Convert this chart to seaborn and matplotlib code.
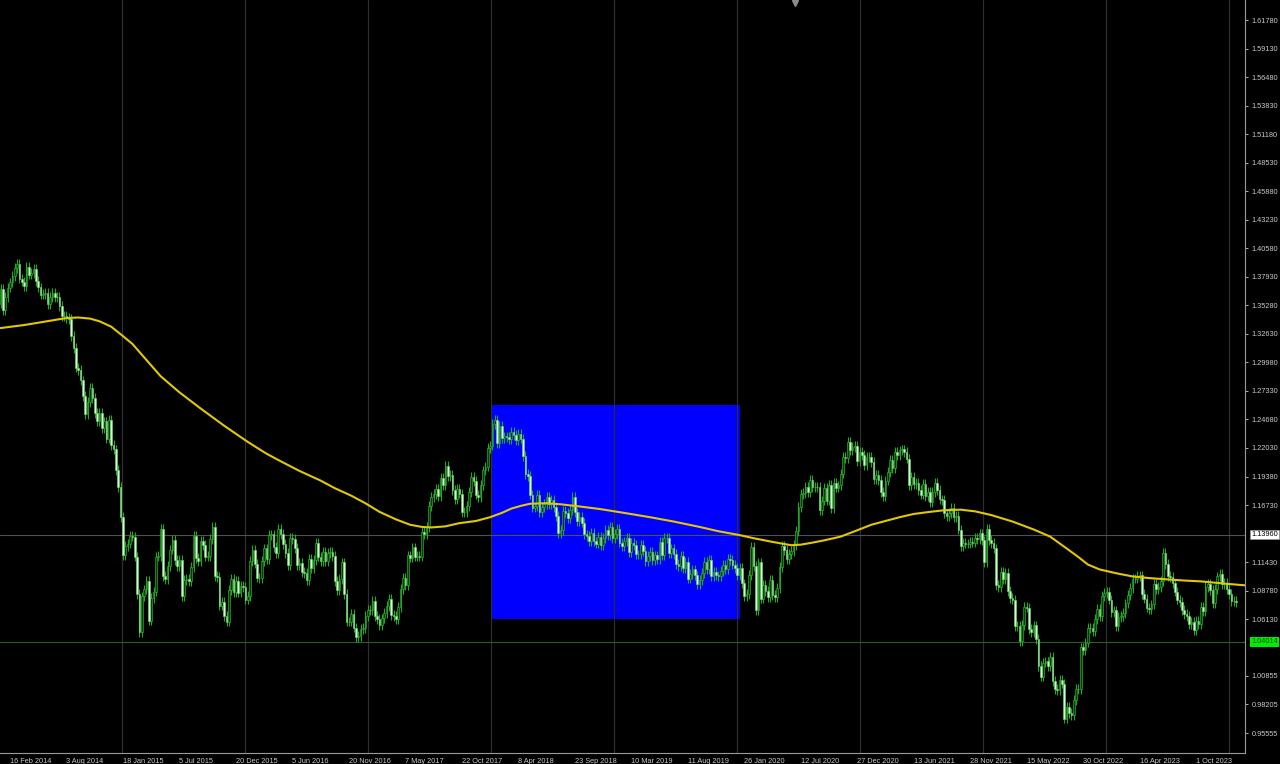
import numpy as np
import matplotlib
matplotlib.use("Agg")
import matplotlib.pyplot as plt
import matplotlib.transforms as mtransforms
import seaborn as sns

# EURUSD weekly closes (one list per year)
open_first = 1.3545
close_2014 = [1.3678, 1.3486, 1.3606, 1.3693, 1.3741, 1.3803, 1.3873, 1.3911, 1.3776, 1.3749,
              1.3705, 1.3886, 1.3814, 1.3830, 1.3870, 1.3755, 1.3695, 1.3628, 1.3636, 1.3643,
              1.3542, 1.3606, 1.3646, 1.3607, 1.3605, 1.3524, 1.3429, 1.3429, 1.3412, 1.3400,
              1.3240, 1.3130, 1.2950, 1.2930, 1.2830, 1.2686, 1.2518, 1.2630, 1.2761, 1.2670,
              1.2525, 1.2450, 1.2525, 1.2390, 1.2450, 1.2290, 1.2460, 1.2230, 1.2190, 1.2000]
close_2015 = [1.1840, 1.1565, 1.1205, 1.1290, 1.1315, 1.1390, 1.1380, 1.1195, 1.0845, 1.0495,
              1.0825, 1.0890, 1.0970, 1.0600, 1.0810, 1.0870, 1.1195, 1.1200, 1.1450, 1.1015,
              1.0985, 1.1110, 1.1260, 1.1350, 1.1165, 1.1110, 1.1160, 1.0830, 1.0980, 1.0985,
              1.0970, 1.1100, 1.1385, 1.1180, 1.1150, 1.1340, 1.1300, 1.1195, 1.1200, 1.1360,
              1.1470, 1.1015, 1.1005, 1.0740, 1.0770, 1.0645, 1.0590, 1.0885, 1.0990, 1.0865,
              1.0965, 1.0860]
close_2016 = [1.0925, 1.0915, 1.0795, 1.0830, 1.1155, 1.1255, 1.1130, 1.1000, 1.0995, 1.1155,
              1.1270, 1.1170, 1.1395, 1.1400, 1.1285, 1.1225, 1.1450, 1.1405, 1.1310, 1.1225,
              1.1115, 1.1370, 1.1355, 1.1275, 1.1115, 1.1135, 1.1050, 1.1040, 1.0975, 1.1175,
              1.1085, 1.1165, 1.1325, 1.1195, 1.1155, 1.1235, 1.1155, 1.1225, 1.1235, 1.1200,
              1.0970, 1.0885, 1.0985, 1.1140, 1.0850, 1.0590, 1.0590, 1.0665, 1.0535, 1.0450,
              1.0455, 1.0520]
close_2017 = [1.0530, 1.0640, 1.0700, 1.0695, 1.0785, 1.0640, 1.0615, 1.0560, 1.0620, 1.0670,
              1.0735, 1.0800, 1.0650, 1.0640, 1.0615, 1.0725, 1.0895, 1.0995, 1.0930, 1.1205,
              1.1185, 1.1280, 1.1195, 1.1200, 1.1195, 1.1425, 1.1400, 1.1470, 1.1665, 1.1750,
              1.1775, 1.1820, 1.1760, 1.1925, 1.1860, 1.2035, 1.1945, 1.1950, 1.1815, 1.1730,
              1.1820, 1.1780, 1.1605, 1.1610, 1.1665, 1.1795, 1.1935, 1.1895, 1.1770, 1.1745,
              1.1860, 1.1995]
close_2018 = [1.2030, 1.2200, 1.2225, 1.2425, 1.2460, 1.2250, 1.2405, 1.2295, 1.2310, 1.2305,
              1.2285, 1.2355, 1.2325, 1.2280, 1.2330, 1.2290, 1.2130, 1.1960, 1.1940, 1.1770,
              1.1650, 1.1660, 1.1770, 1.1610, 1.1655, 1.1685, 1.1745, 1.1685, 1.1720, 1.1655,
              1.1570, 1.1410, 1.1440, 1.1620, 1.1600, 1.1550, 1.1625, 1.1745, 1.1605, 1.1525,
              1.1560, 1.1510, 1.1400, 1.1385, 1.1335, 1.1415, 1.1335, 1.1315, 1.1380, 1.1305,
              1.1370, 1.1440]
close_2019 = [1.1395, 1.1470, 1.1365, 1.1405, 1.1455, 1.1325, 1.1295, 1.1335, 1.1365, 1.1235,
              1.1325, 1.1300, 1.1215, 1.1215, 1.1300, 1.1245, 1.1150, 1.1200, 1.1235, 1.1160,
              1.1205, 1.1170, 1.1330, 1.1210, 1.1370, 1.1370, 1.1225, 1.1270, 1.1220, 1.1125,
              1.1110, 1.1200, 1.1090, 1.1145, 1.0990, 1.1030, 1.1075, 1.1020, 1.0940, 1.0980,
              1.1040, 1.1145, 1.1080, 1.1165, 1.1015, 1.1050, 1.1020, 1.1015, 1.1060, 1.1120,
              1.1080, 1.1175]
close_2020 = [1.1160, 1.1120, 1.1090, 1.1025, 1.1090, 1.0945, 1.0830, 1.0845, 1.1025, 1.1285,
              1.1105, 1.0695, 1.1140, 1.0805, 1.0935, 1.0875, 1.0820, 1.0980, 1.0840, 1.0820,
              1.0900, 1.1100, 1.1290, 1.1255, 1.1175, 1.1220, 1.1245, 1.1300, 1.1430, 1.1655,
              1.1775, 1.1785, 1.1840, 1.1795, 1.1905, 1.1840, 1.1845, 1.1840, 1.1630, 1.1715,
              1.1830, 1.1715, 1.1860, 1.1645, 1.1875, 1.1835, 1.1855, 1.1965, 1.2120, 1.2110,
              1.2260, 1.2185]
close_2021 = [1.2215, 1.2220, 1.2080, 1.2170, 1.2135, 1.2045, 1.2120, 1.2120, 1.2075, 1.1915,
              1.1950, 1.1905, 1.1795, 1.1760, 1.1900, 1.1980, 1.2095, 1.2020, 1.2165, 1.2140,
              1.2180, 1.2190, 1.2165, 1.2105, 1.1860, 1.1935, 1.1865, 1.1875, 1.1810, 1.1770,
              1.1870, 1.1760, 1.1795, 1.1700, 1.1795, 1.1880, 1.1815, 1.1725, 1.1720, 1.1595,
              1.1570, 1.1600, 1.1645, 1.1560, 1.1570, 1.1445, 1.1290, 1.1320, 1.1315, 1.1315,
              1.1330, 1.1325, 1.1370]
close_2022 = [1.1360, 1.1410, 1.1345, 1.1145, 1.1450, 1.1350, 1.1320, 1.1270, 1.0930, 1.0910,
              1.1050, 1.0985, 1.1045, 1.0875, 1.0810, 1.0795, 1.0545, 1.0550, 1.0410, 1.0560,
              1.0730, 1.0720, 1.0520, 1.0495, 1.0555, 1.0430, 1.0180, 1.0080, 1.0210, 1.0220,
              1.0180, 1.0260, 1.0040, 0.9965, 0.9955, 1.0045, 1.0015, 0.9690, 0.9800, 0.9740,
              0.9720, 0.9860, 0.9965, 0.9960, 1.0350, 1.0325, 1.0395, 1.0535, 1.0530, 1.0505,
              1.0615, 1.0705]
close_2023 = [1.0645, 1.0830, 1.0855, 1.0870, 1.0795, 1.0680, 1.0695, 1.0545, 1.0635, 1.0640,
              1.0670, 1.0760, 1.0840, 1.0900, 1.0990, 1.0990, 1.1015, 1.1020, 1.0850, 1.0805,
              1.0720, 1.0710, 1.0750, 1.0940, 1.0895, 1.0910, 1.0965, 1.1230, 1.1125, 1.1015,
              1.1005, 1.0945, 1.0870, 1.0795, 1.0775, 1.0700, 1.0660, 1.0645, 1.0570, 1.0590,
              1.0515, 1.0595, 1.0565, 1.0730, 1.0685, 1.0915, 1.0940, 1.0885, 1.0760, 1.0895,
              1.1010, 1.1035]
close_2024 = [1.0940, 1.0950, 1.0895, 1.0850, 1.0785, 1.0785, 1.0775]

# yellow moving average, read at bar positions
ma_bars = [0, 10, 17, 23, 28, 33, 38, 42, 47, 51, 56, 62, 68, 76, 85, 95, 105, 113, 119, 127,
           136, 142, 149, 155, 161, 168, 174, 179, 183, 189, 195, 202, 208, 213, 217, 221,
           225, 232, 238, 246, 255, 265, 276, 286, 297, 305, 314, 320, 327, 332, 336, 340,
           344, 350, 357, 363, 370, 376, 382, 388, 395, 401, 408, 414, 421, 430, 439, 446,
           453, 458, 462, 467, 474, 481, 488, 496, 503, 510, 517, 524, 529]
ma_values = [1.3317, 1.3345, 1.3370, 1.3392, 1.3410, 1.3415, 1.3405, 1.3380, 1.3330, 1.3260,
             1.3170, 1.3020, 1.2870, 1.2720, 1.2570, 1.2410, 1.2260, 1.2150, 1.2080, 1.1990,
             1.1900, 1.1830, 1.1760, 1.1690, 1.1610, 1.1540, 1.1490, 1.1470, 1.1465, 1.1475,
             1.1505, 1.1525, 1.1560, 1.1600, 1.1640, 1.1665, 1.1685, 1.1690, 1.1680, 1.1660,
             1.1635, 1.1600, 1.1560, 1.1520, 1.1470, 1.1430, 1.1394, 1.1365, 1.1335, 1.1315,
             1.1300, 1.1305, 1.1320, 1.1345, 1.1380, 1.1430, 1.1490, 1.1525, 1.1560, 1.1590,
             1.1610, 1.1625, 1.1630, 1.1615, 1.1580, 1.1520, 1.1446, 1.1380, 1.1270, 1.1190,
             1.1121, 1.1075, 1.1040, 1.1010, 1.0995, 1.0982, 1.0972, 1.0964, 1.0950, 1.0936,
             1.0927]

date_labels = ["16 Feb 2014", "3 Aug 2014", "18 Jan 2015", "5 Jul 2015", "20 Dec 2015",
               "5 Jun 2016", "20 Nov 2016", "7 May 2017", "22 Oct 2017", "8 Apr 2018",
               "23 Sep 2018", "10 Mar 2019", "11 Aug 2019", "26 Jan 2020", "12 Jul 2020",
               "27 Dec 2020", "13 Jun 2021", "28 Nov 2021", "15 May 2022", "30 Oct 2022",
               "16 Apr 2023", "1 Oct 2023"]
price_ticks = [1.61780, 1.59130, 1.56480, 1.53830, 1.51180, 1.48530, 1.45880, 1.43230,
               1.40580, 1.37930, 1.35280, 1.32630, 1.29980, 1.27330, 1.24680, 1.22030,
               1.19380, 1.16730, 1.11430, 1.08780, 1.06130, 1.00855, 0.98205, 0.95555]
current_price = 1.13960
alert_price = 1.04014
box_bars = [208.4, 314.2]
box_prices = [1.0614, 1.2602]
shift_marker_bar = 337.6

WICK = 0.0045

sns.set_style("dark", {"axes.facecolor": "black", "figure.facecolor": "black"})
plt.rcParams['font.family'] = ['Liberation Sans', 'DejaVu Sans']

closes = np.array(close_2014 + close_2015 + close_2016 + close_2017 + close_2018 + close_2019
                  + close_2020 + close_2021 + close_2022 + close_2023 + close_2024)
opens = np.r_[open_first, closes[:-1]]
bars = np.arange(len(closes))
top = np.maximum(opens, closes)
bot = np.minimum(opens, closes)
up = closes >= opens

fig = plt.figure(figsize=(12.8, 7.64), dpi=100, facecolor='black')
ax = fig.add_axes([0, 11 / 764, 1245 / 1280, 753 / 764])
ax.set_facecolor('black')

# blue rectangle object
ax.add_patch(plt.Rectangle((box_bars[0], box_prices[0]), box_bars[1] - box_bars[0],
                           box_prices[1] - box_prices[0], facecolor='#0000ff',
                           edgecolor='none', zorder=0.5))

# vertical grid
for g in np.arange(51.6, 530, 52.25):
    ax.axvline(g, color='#2e2e2e', lw=0.9, zorder=1)

ax.axhline(current_price, color='#505050', lw=0.8, zorder=1.5)
ax.axhline(alert_price, color='#276027', lw=0.8, zorder=1.5)

# candles
ax.vlines(bars, bot - WICK, top + WICK, color='#22a822', lw=0.8, zorder=3)
ax.bar(bars[up], (top - bot)[up], bottom=bot[up], width=0.7, color='#0b3b0b',
       edgecolor='#33c433', lw=0.4, zorder=4)
ax.bar(bars[~up], (top - bot)[~up], bottom=bot[~up], width=0.7, color='#d2f7d2',
       edgecolor='#6fd66f', lw=0.4, zorder=4)

sns.lineplot(x=ma_bars, y=ma_values, ax=ax, color='#e2c800', lw=1.5, zorder=5)

ax.set_xlim(-0.25, 528.8)
ax.set_ylim(0.9370, 1.6364)

label_bars = 4 + 24 * np.arange(len(date_labels))
ax.set_xticks(label_bars)
ax.set_xticklabels(date_labels, ha='left')
ax.yaxis.tick_right()
ax.set_yticks(price_ticks)
ax.set_yticklabels([f"{p:.5f}" for p in price_ticks])
ax.tick_params(axis='x', colors='#c8c8c8', labelsize=5.3, length=2, width=0.6, pad=1.5)
ax.tick_params(axis='y', colors='#c8c8c8', labelsize=5.3, length=2, width=0.6, pad=2.5)
ax.grid(False)
for s in ['left', 'top']:
    ax.spines[s].set_visible(False)
for s in ['right', 'bottom']:
    ax.spines[s].set_color('#9a9a9a')
    ax.spines[s].set_linewidth(0.8)

yblend = mtransforms.blended_transform_factory(ax.transAxes, ax.transData)
ax.text(1.005, current_price, f"{current_price:.5f}", transform=yblend, fontsize=5.3,
        color='black', va='center', ha='left', clip_on=False,
        bbox=dict(boxstyle='square,pad=0.15', facecolor='white', edgecolor='#9a9a9a', lw=0.5))
ax.text(1.005, alert_price, f"{alert_price:.5f}", transform=yblend, fontsize=5.3,
        color='#0a4a0a', va='center', ha='left', clip_on=False,
        bbox=dict(boxstyle='square,pad=0.15', facecolor='#00ee00', edgecolor='none'))

xblend = mtransforms.blended_transform_factory(ax.transData, ax.transAxes)
ax.plot([shift_marker_bar], [0.996], marker='v', color='#8a8a8a', ms=4,
        transform=xblend, clip_on=False, zorder=6)

fig.savefig("out.png", dpi=100, facecolor='black')
